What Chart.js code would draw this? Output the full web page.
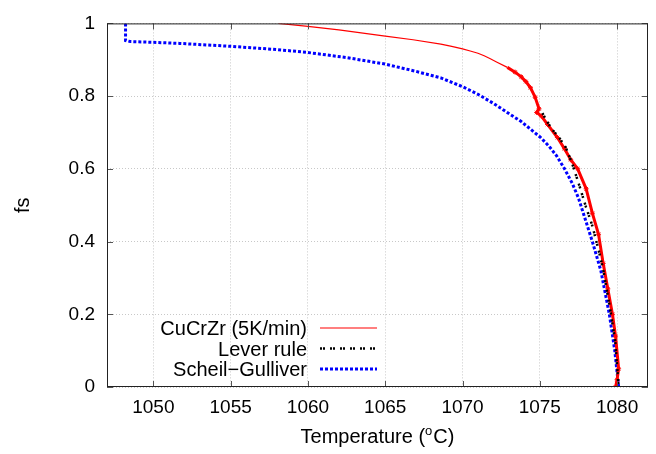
<!DOCTYPE html>
<html>
<head>
<meta charset="utf-8">
<script src="https://cdn.jsdelivr.net/npm/chart.js@4.4.1/dist/chart.umd.min.js"></script>
<style>
  html, body { margin: 0; padding: 0; background: #fff; }
  #wrap { width: 656px; height: 454px; }
</style>
</head>
<body>
<div id="wrap"><canvas id="fsChart"></canvas></div>
<script>
// measured curve, CuCrZr at 5K/min
const expTemp = [1058.1, 1060, 1062, 1065, 1066.8, 1068.6, 1069.3, 1070, 1070.5, 1071, 1071.4, 1071.8, 1072.2, 1072.9, 1073.4, 1073.8, 1074.1, 1074.4, 1074.7, 1074.95, 1074.8, 1075.1, 1075.5, 1076.14, 1076.6, 1077.0, 1077.45, 1078.0, 1078.4, 1078.8, 1079.1, 1079.4, 1079.7, 1079.9, 1080.1, 1080.0, 1079.9];
const expFs = [1.0, 0.992, 0.982, 0.965, 0.955, 0.943, 0.937, 0.93, 0.924, 0.918, 0.911, 0.903, 0.894, 0.879, 0.866, 0.853, 0.84, 0.823, 0.797, 0.765, 0.755, 0.745, 0.722, 0.686, 0.655, 0.625, 0.6, 0.545, 0.478, 0.42, 0.34, 0.27, 0.2, 0.14, 0.05, 0.02, 0];

// lever rule
const leverTemp = [1075.17, 1075.71, 1076.25, 1076.68, 1077.1, 1077.55, 1077.98, 1078.41, 1078.84, 1079.1, 1079.55, 1079.88, 1080.1];
const leverFs = [0.753, 0.713, 0.686, 0.659, 0.614, 0.555, 0.496, 0.442, 0.37, 0.323, 0.215, 0.125, 0];

// Scheil-Gulliver
const scheilTemp = [1048.2, 1048.2, 1048.5, 1050, 1051.7, 1055, 1058, 1060, 1062.5, 1065, 1067, 1068.6, 1070, 1071, 1072, 1073, 1073.8, 1075.06, 1075.6, 1076.1, 1076.6, 1077.1, 1077.5, 1077.95, 1078.4, 1078.95, 1079.5, 1079.85, 1080.1];
const scheilFs = [1.0, 0.953, 0.95, 0.948, 0.945, 0.937, 0.928, 0.92, 0.906, 0.888, 0.868, 0.85, 0.826, 0.805, 0.78, 0.752, 0.73, 0.686, 0.662, 0.635, 0.6, 0.56, 0.52, 0.46, 0.4, 0.32, 0.2, 0.1, 0];

const xTicks = [1050, 1055, 1060, 1065, 1070, 1075, 1080];
const yTicks = [0, 0.2, 0.4, 0.6, 0.8, 1];
const yTickLabels = ['0', '0.2', '0.4', '0.6', '0.8', '1'];
const seriesLabels = ['CuCrZr (5K/min)', 'Lever rule', 'Scheil\u2212Gulliver'];

const FONT = 'Liberation Sans';

function toPoints(xs, ys) {
  return xs.map(function(x, i) { return { x: x, y: ys[i] }; });
}

// frame, inward ticks on all sides, legend and x title (gnuplot look)
const gnuplotDecor = {
  id: 'gnuplotDecor',
  afterDatasetsDraw(chart) {
    const ctx = chart.ctx;
    const a = chart.chartArea;
    const xs = chart.scales.x, ys = chart.scales.y;
    ctx.save();

    // ticks
    ctx.strokeStyle = '#555';
    ctx.lineWidth = 1;
    ctx.beginPath();
    xTicks.forEach(function(v) {
      const px = Math.round(xs.getPixelForValue(v)) + 0.5;
      ctx.moveTo(px, a.bottom); ctx.lineTo(px, a.bottom - 6);
      ctx.moveTo(px, a.top); ctx.lineTo(px, a.top + 6);
    });
    yTicks.forEach(function(v) {
      const py = Math.round(ys.getPixelForValue(v)) + 0.5;
      ctx.moveTo(a.left, py); ctx.lineTo(a.left + 6, py);
      ctx.moveTo(a.right, py); ctx.lineTo(a.right - 6, py);
    });
    ctx.stroke();

    // frame
    ctx.strokeStyle = '#222';
    ctx.strokeRect(a.left + 0.5, a.top + 0.5, a.right - a.left - 1, a.bottom - a.top - 1);

    // legend
    const ds = chart.data.datasets;
    const textY = [335, 356, 376];
    const lineY = [328, 348.5, 369];
    ctx.font = '20px "' + FONT + '"';
    ctx.textAlign = 'right';
    ctx.textBaseline = 'alphabetic';
    ds.forEach(function(d, i) {
      ctx.fillStyle = '#000';
      ctx.fillText(d.label, 307, textY[i]);
      ctx.strokeStyle = d.borderColor;
      ctx.lineWidth = i === 0 ? 1.2 : d.borderWidth;
      ctx.setLineDash(d.borderDash || []);
      ctx.lineCap = 'butt';
      ctx.beginPath();
      ctx.moveTo(320, lineY[i]);
      ctx.lineTo(377, lineY[i]);
      ctx.stroke();
    });
    ctx.setLineDash([]);

    // x title with superscript o
    const cx = (a.left + a.right) / 2;
    const ty = 443;
    const big = '20px "' + FONT + '"';
    const small = '13px "' + FONT + '"';
    ctx.font = big;
    const w1 = ctx.measureText('Temperature (').width;
    const w3 = ctx.measureText('C)').width;
    ctx.font = small;
    const w2 = ctx.measureText('o').width + 1;
    const x0 = cx - (w1 + w2 + w3) / 2;
    ctx.textAlign = 'left';
    ctx.fillStyle = '#000';
    ctx.font = big;
    ctx.fillText('Temperature (', x0, ty);
    ctx.font = small;
    ctx.fillText('o', x0 + w1, ty - 8);
    ctx.font = big;
    ctx.fillText('C)', x0 + w1 + w2, ty);

    ctx.restore();
  }
};

new Chart(document.getElementById('fsChart'), {
  type: 'scatter',
  data: {
    datasets: [
      {
        label: seriesLabels[0],
        data: toPoints(expTemp, expFs),
        showLine: true,
        borderColor: '#ff0000',
        borderWidth: 1.2,
        segment: {
          borderWidth: function(c) { return c.p0.parsed.x > 1072.5 ? 3 : 1.2; }
        },
        pointStyle: 'star',
        pointRadius: function(c) { return c.raw && c.raw.x > 1073 ? 2.5 : 0; },
        pointBorderColor: '#ff0000',
        pointBorderWidth: 1,
        order: 1
      },
      {
        label: seriesLabels[1],
        data: toPoints(leverTemp, leverFs),
        showLine: true,
        borderColor: '#000000',
        borderWidth: 2.5,
        borderDash: [2, 1, 2, 5],
        pointRadius: 0,
        order: 0
      },
      {
        label: seriesLabels[2],
        data: toPoints(scheilTemp, scheilFs),
        showLine: true,
        borderColor: '#0000ff',
        borderWidth: 3,
        borderDash: [3, 2],
        pointRadius: 0,
        order: 2
      }
    ]
  },
  options: {
    responsive: true,
    maintainAspectRatio: false,
    animation: false,
    layout: { padding: { top: 17, right: 8, left: 0, bottom: 0 } },
    plugins: {
      legend: { display: false },
      tooltip: { enabled: false }
    },
    scales: {
      x: {
        type: 'linear',
        min: 1047,
        max: 1082,
        afterBuildTicks: function(s) { s.ticks = xTicks.map(function(v) { return { value: v }; }); },
        afterFit: function(s) { s.height = 67; },
        ticks: {
          color: '#000',
          font: { family: FONT, size: 19 },
          padding: 9,
          maxRotation: 0,
          callback: function(v) { return String(v); }
        },
        grid: { color: '#c8c8c8', drawTicks: false, lineWidth: 1 },
        border: { display: false, dash: [1, 2] }
      },
      y: {
        type: 'linear',
        min: 0,
        max: 1,
        afterBuildTicks: function(s) { s.ticks = yTicks.map(function(v) { return { value: v }; }); },
        afterFit: function(s) { s.width = 107; },
        ticks: {
          color: '#000',
          font: { family: FONT, size: 19 },
          padding: 12,
          callback: function(v) { return yTickLabels[yTicks.indexOf(v)]; }
        },
        grid: { color: '#c8c8c8', drawTicks: false, lineWidth: 1 },
        border: { display: false, dash: [1, 2] },
        title: {
          display: true,
          text: 'fs',
          color: '#000',
          font: { family: FONT, size: 20 },
          padding: { top: 11, bottom: 0 }
        }
      }
    }
  },
  plugins: [gnuplotDecor]
});
</script>
</body>
</html>
